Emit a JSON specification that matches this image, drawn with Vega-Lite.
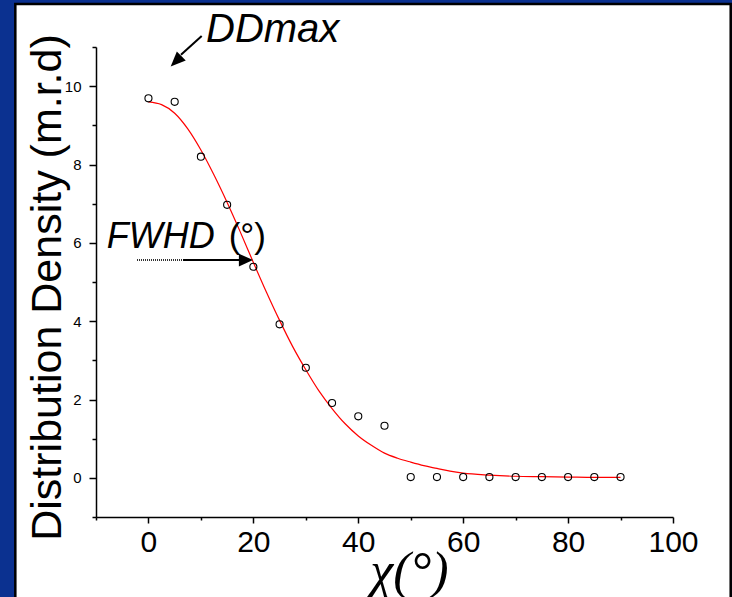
{
  "$schema": "https://vega.github.io/schema/vega-lite/v6.json",
  "width": 577,
  "height": 470,
  "autosize": {"type": "none"},
  "padding": {"left": 96, "top": 47, "right": 59, "bottom": 80},
  "background": "#0b3190",
  "config": {"view": {"stroke": null}, "font": "Liberation Sans"},
  "encoding": {
    "x": {
      "field": "x", "type": "quantitative",
      "scale": {"domain": [-10, 100], "nice": false, "zero": false},
      "axis": {
        "values": [-10, 0, 10, 20, 30, 40, 50, 60, 70, 80, 90, 100],
        "labelExpr": "datum.value % 20 === 0 ? datum.label : ''",
        "tickSize": {"condition": {"test": "datum.value % 20 === 0", "value": 6}, "value": 3},
        "labelFontSize": 30, "labelColor": "black", "labelPadding": 4, "labelFont": "Liberation Sans",
        "labelFlush": false, "labelOverlap": false, "labelBound": false,
        "domainColor": "black", "domainWidth": 1.5, "tickColor": "black", "tickWidth": 1.5,
        "grid": false, "zindex": 1,
        "title": "χ(°)", "titleFont": "Liberation Serif", "titleFontStyle": "italic",
        "titleFontSize": 52, "titleFontWeight": "normal", "titleColor": "black",
        "titleX": 313, "titleY": 70, "titleBaseline": "alphabetic", "titleAlign": "center", "titleAnchor": null
      }
    },
    "y": {
      "field": "y", "type": "quantitative",
      "scale": {"domain": [-1, 11], "nice": false, "zero": false},
      "axis": {
        "values": [-1, 0, 1, 2, 3, 4, 5, 6, 7, 8, 9, 10, 11],
        "labelExpr": "(datum.value % 2 === 0 && datum.value >= 0) ? datum.label : ''",
        "tickSize": {"condition": {"test": "datum.value % 2 === 0", "value": 7}, "value": 4},
        "labelFontSize": 15, "labelColor": "black", "labelPadding": 8, "labelFont": "Liberation Sans",
        "labelFlush": false, "labelOverlap": false, "labelBound": false,
        "domainColor": "black", "domainWidth": 1.5, "tickColor": "black", "tickWidth": 1.5,
        "grid": false, "zindex": 1,
        "title": "Distribution Density (m.r.d)", "titleFont": "Liberation Sans",
        "titleFontSize": 43, "titleFontWeight": "normal", "titleColor": "black",
        "titleX": -36, "titleY": 240, "titleBaseline": "alphabetic", "titleAlign": "center", "titleAngle": 270, "titleAnchor": null
      }
    }
  },
  "layer": [
    {
      "data": {"values": [{"x": -25.38, "x2": 111.0, "y": 12.1, "y2": -3.5}]},
      "mark": {"type": "rect", "fill": "white", "stroke": "black", "strokeWidth": 2.5, "clip": false},
      "encoding": {"x2": {"field": "x2"}, "y2": {"field": "y2"}}
    },
    {
      "data": {"values": [
        {"x": 0, "y": 9.6}, {"x": 2.5, "y": 9.53}, {"x": 5, "y": 9.31}, {"x": 7.5, "y": 8.91},
        {"x": 10, "y": 8.37}, {"x": 12.5, "y": 7.73}, {"x": 15, "y": 7.03}, {"x": 17.5, "y": 6.28},
        {"x": 20, "y": 5.5}, {"x": 22.5, "y": 4.74}, {"x": 25, "y": 4.02}, {"x": 27.5, "y": 3.35},
        {"x": 30, "y": 2.76}, {"x": 32.5, "y": 2.22}, {"x": 35, "y": 1.77}, {"x": 37.5, "y": 1.38},
        {"x": 40, "y": 1.07}, {"x": 42.5, "y": 0.83}, {"x": 45, "y": 0.63}, {"x": 47.5, "y": 0.5},
        {"x": 50, "y": 0.4}, {"x": 52.5, "y": 0.31}, {"x": 55, "y": 0.24}, {"x": 57.5, "y": 0.17},
        {"x": 60, "y": 0.12}, {"x": 65, "y": 0.07}, {"x": 70, "y": 0.04}, {"x": 75, "y": 0.03},
        {"x": 80, "y": 0.02}, {"x": 85, "y": 0.01}, {"x": 90, "y": 0.01}
      ]},
      "mark": {"type": "line", "color": "#ff0000", "strokeWidth": 1.2, "interpolate": "monotone"}
    },
    {
      "data": {"values": [
        {"x": 0, "y": 9.69}, {"x": 5, "y": 9.6}, {"x": 10, "y": 8.2}, {"x": 15, "y": 6.97},
        {"x": 20, "y": 5.39}, {"x": 25, "y": 3.92}, {"x": 30, "y": 2.81}, {"x": 35, "y": 1.91},
        {"x": 40, "y": 1.57}, {"x": 45, "y": 1.33}, {"x": 50, "y": 0.02}, {"x": 55, "y": 0.02},
        {"x": 60, "y": 0.02}, {"x": 65, "y": 0.02}, {"x": 70, "y": 0.02}, {"x": 75, "y": 0.02},
        {"x": 80, "y": 0.02}, {"x": 85, "y": 0.02}, {"x": 90, "y": 0.02}
      ]},
      "mark": {"type": "point", "shape": "circle", "filled": false, "stroke": "black", "strokeWidth": 1.1, "size": 50, "opacity": 1}
    },
    {
      "data": {"values": [{"x": 10.97, "y": 11.135, "label": "DDmax"}]},
      "mark": {"type": "text", "font": "Liberation Sans", "fontStyle": "italic", "fontSize": 40, "align": "left", "baseline": "alphabetic", "color": "black", "clip": false},
      "encoding": {"text": {"field": "label"}}
    },
    {
      "data": {"values": [{"x": -7.96, "y": 5.86, "label": "FWHD"}]},
      "mark": {"type": "text", "font": "Liberation Sans", "fontStyle": "italic", "fontSize": 36, "align": "left", "baseline": "alphabetic", "color": "black"},
      "encoding": {"text": {"field": "label"}}
    },
    {
      "data": {"values": [{"x": 15.3, "y": 5.86, "label": "(°)"}]},
      "mark": {"type": "text", "font": "Liberation Sans", "fontSize": 35, "align": "left", "baseline": "alphabetic", "color": "black"},
      "encoding": {"text": {"field": "label"}}
    },
    {
      "data": {"values": [{"x": 10.15, "y": 11.28, "x2": 6.2, "y2": 10.8}, {"x": 6.59, "y": 5.56, "x2": 17.6, "y2": 5.56}]},
      "mark": {"type": "rule", "color": "black", "strokeWidth": 2, "clip": false},
      "encoding": {"x2": {"field": "x2"}, "y2": {"field": "y2"}}
    },
    {
      "data": {"values": [{"x": -2.18, "y": 5.56, "x2": 6.59, "y2": 5.56}]},
      "mark": {"type": "rule", "color": "#333333", "strokeWidth": 2, "strokeDash": [1, 1]},
      "encoding": {"x2": {"field": "x2"}, "y2": {"field": "y2"}}
    },
    {
      "data": {"values": [{"x": 4.24, "y": 10.5}]},
      "mark": {"type": "point", "shape": "M0,0L-0.42,1L0.42,1Z", "filled": true, "color": "black", "opacity": 1, "size": 900, "angle": 225, "clip": false}
    },
    {
      "data": {"values": [{"x": 19.93, "y": 5.56}]},
      "mark": {"type": "point", "shape": "M0,0L-0.45,1L0.45,1Z", "filled": true, "color": "black", "opacity": 1, "size": 800, "angle": 90}
    }
  ]
}
